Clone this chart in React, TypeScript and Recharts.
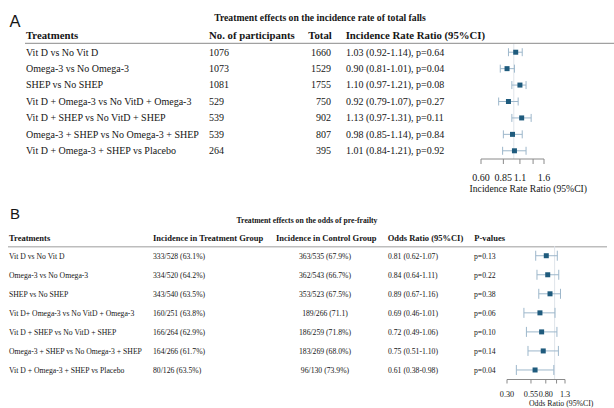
import React from 'react';
import { ScatterChart, Scatter, XAxis, YAxis, ErrorBar, ReferenceLine } from 'recharts';

const serif = '"Liberation Serif", "Times New Roman", serif';
const sans = '"Liberation Sans", Arial, sans-serif';
const markerColor = '#1f5b7d';
const barColor = '#9db7cb';
const refColor = '#dfe4ea';
const axisColor = '#8a8a8a';
const textColor = '#151515';

// panel A: incidence rate of total falls
const fallTreatments = [
  'Vit D vs No Vit D',
  'Omega-3 vs No Omega-3',
  'SHEP vs No SHEP',
  'Vit D + Omega-3 vs No VitD + Omega-3',
  'Vit D + SHEP vs No VitD + SHEP',
  'Omega-3 + SHEP vs No Omega-3 + SHEP',
  'Vit D + Omega-3 + SHEP vs Placebo',
];
const fallParticipants = [1076, 1073, 1081, 529, 539, 539, 264];
const fallTotal = [1660, 1529, 1755, 750, 902, 807, 395];
const fallIrr = [1.03, 0.9, 1.1, 0.92, 1.13, 0.98, 1.01];
const fallLow = [0.92, 0.81, 0.97, 0.79, 0.97, 0.85, 0.84];
const fallHigh = [1.14, 1.01, 1.21, 1.07, 1.31, 1.14, 1.21];
const fallP = ['0.64', '0.04', '0.08', '0.27', '0.11', '0.84', '0.92'];
const fallTicks = [0.6, 0.85, 1.1, 1.35, 1.6];
const fallTickLabels = ['0.60', '0.85', '1.1', '', '1.6'];

// panel B: odds of pre-frailty
const frailTreatments = [
  'Vit D vs No Vit D',
  'Omega-3 vs No Omega-3',
  'SHEP vs No SHEP',
  'Vit D+ Omega-3 vs No VitD + Omega-3',
  'Vit D + SHEP vs No VitD + SHEP',
  'Omega-3 + SHEP vs No Omega-3 + SHEP',
  'Vit D + Omega-3 + SHEP vs Placebo',
];
const frailTreated = ['333/528 (63.1%)', '334/520 (64.2%)', '343/540 (63.5%)', '160/251 (63.8%)', '166/264 (62.9%)', '164/266 (61.7%)', '80/126 (63.5%)'];
const frailControl = ['363/535 (67.9%)', '362/543 (66.7%)', '353/523 (67.5%)', '189/266 (71.1)', '186/259 (71.8%)', '183/269 (68.0%)', '96/130 (73.9%)'];
const frailOr = [0.81, 0.84, 0.89, 0.69, 0.72, 0.75, 0.61];
const frailLow = [0.62, 0.64, 0.67, 0.46, 0.49, 0.51, 0.38];
const frailHigh = [1.07, 1.11, 1.16, 1.01, 1.06, 1.1, 0.98];
const frailP = ['0.13', '0.22', '0.38', '0.06', '0.10', '0.14', '0.04'];
const frailTicks = [0.3, 0.55, 0.8, 1.05, 1.3];
const frailTickLabels = ['0.30', '0.55', '0.80', '', '1.3'];

const rowIndex = [0, 1, 2, 3, 4, 5, 6];

const fallData = fallIrr.map((v, i) => ({ row: i, est: v, err: [v - fallLow[i], fallHigh[i] - v] }));
const frailData = frailOr.map((v, i) => ({ row: i, est: v, err: [v - frailLow[i], frailHigh[i] - v] }));

const ci = (v: number, lo: number, hi: number) => `${v.toFixed(2)} (${lo.toFixed(2)}-${hi.toFixed(2)})`;

const square = (size: number) => (p: any) => (
  <rect x={p.cx - size / 2} y={p.cy - size / 2} width={size} height={size} fill={markerColor} />
);

const FallTick = (p: any) => {
  const i = p.payload.value;
  const t = { style: { fontFamily: serif, fontSize: 10 }, fill: textColor };
  return (
    <g>
      <text x={26} y={p.y} dy={3.4} {...t}>{fallTreatments[i]}</text>
      <text x={209} y={p.y} dy={3.4} {...t}>{fallParticipants[i]}</text>
      <text x={331} y={p.y} dy={3.4} textAnchor="end" {...t}>{fallTotal[i]}</text>
      <text x={346} y={p.y} dy={3.4} {...t}>{`${ci(fallIrr[i], fallLow[i], fallHigh[i])}, p=${fallP[i]}`}</text>
    </g>
  );
};

const FrailTick = (p: any) => {
  const i = p.payload.value;
  const t = { style: { fontFamily: serif, fontSize: 7.7 }, fill: textColor };
  return (
    <g>
      <text x={9} y={p.y} dy={3.2} {...t}>{frailTreatments[i]}</text>
      <text x={153} y={p.y} dy={3.2} {...t}>{frailTreated[i]}</text>
      <text x={325} y={p.y} dy={3.2} textAnchor="middle" {...t}>{frailControl[i]}</text>
      <text x={388} y={p.y} dy={3.2} {...t}>{ci(frailOr[i], frailLow[i], frailHigh[i])}</text>
      <text x={474} y={p.y} dy={3.2} {...t}>{`p=${frailP[i]}`}</text>
    </g>
  );
};

const Overlay = () => (
  <svg width={614} height={408} style={{ position: 'absolute', left: 0, top: 0, fontFamily: serif }}>
    <text x={9.5} y={26.7} style={{ fontFamily: sans, fontSize: 16.5 }} fill={textColor}>A</text>
    <text x={320} y={21} textAnchor="middle" fontWeight="bold" style={{ fontSize: 9.7 }} fill={textColor}>
      Treatment effects on the incidence rate of total falls
    </text>
    <g fontWeight="bold" style={{ fontSize: 10.75 }} fill={textColor}>
      <text x={26} y={39}>Treatments</text>
      <text x={209} y={39}>No. of participants</text>
      <text x={308.3} y={39}>Total</text>
      <text x={345.7} y={39}>Incidence Rate Ratio (95%CI)</text>
    </g>
    <line x1={25} x2={614} y1={43.3} y2={43.3} stroke={axisColor} strokeWidth={1} />
    <text x={528.3} y={192.3} textAnchor="middle" style={{ fontSize: 9.7 }} fill={textColor}>
      Incidence Rate Ratio (95%CI)
    </text>

    <text x={10} y={219} style={{ fontFamily: sans, fontSize: 15 }} fill={textColor}>B</text>
    <text x={307} y={223.3} textAnchor="middle" fontWeight="bold" style={{ fontSize: 7.7 }} fill={textColor}>
      Treatment effects on the odds of pre-frailty
    </text>
    <g fontWeight="bold" style={{ fontSize: 8.5 }} fill={textColor}>
      <text x={9} y={240.7}>Treatments</text>
      <text x={153} y={240.7}>Incidence in Treatment Group</text>
      <text x={276} y={240.7}>Incidence in Control Group</text>
      <text x={387.7} y={240.7}>Odds Ratio (95%CI)</text>
      <text x={474.3} y={240.7}>P-values</text>
    </g>
    <line x1={8} x2={607} y1={246.7} y2={246.7} stroke="#bdbdbd" strokeWidth={1.4} />
    <text x={561.2} y={406} textAnchor="middle" style={{ fontSize: 7.8 }} fill={textColor}>
      Odds Ratio (95%CI)
    </text>
  </svg>
);

const App: React.FC = () => (
  <div style={{ position: 'absolute', left: 0, top: 0, width: 614, height: 408, background: '#fff', fontFamily: serif }}>
    <Overlay />
    <div style={{ position: 'absolute', left: 0, top: 0 }}>
      <ScatterChart width={614} height={200} margin={{ top: 44, right: 70, bottom: 11, left: 0 }}>
        <XAxis
          type="number"
          dataKey="est"
          scale="log"
          domain={[0.6, 1.6]}
          ticks={fallTicks}
          interval={0}
          allowDataOverflow
          height={30}
          tickSize={5}
          tickMargin={10}
          stroke={axisColor}
          tickFormatter={(v: number, i: number) => fallTickLabels[i]}
          tick={{ style: { fontFamily: serif }, fontSize: 10, fill: textColor }}
        />
        <YAxis
          type="number"
          dataKey="row"
          domain={[-0.5, 6.5]}
          ticks={rowIndex}
          interval={0}
          reversed
          allowDataOverflow
          width={481}
          axisLine={false}
          tickLine={false}
          tick={<FallTick />}
        />
        <ReferenceLine x={1} stroke={refColor} strokeWidth={1} />
        <Scatter data={fallData} shape={square(5)} isAnimationActive={false}>
          <ErrorBar dataKey="err" direction="x" width={4} stroke={barColor} strokeWidth={1} />
        </Scatter>
      </ScatterChart>
    </div>
    <div style={{ position: 'absolute', left: 0, top: 200 }}>
      <ScatterChart width={614} height={208} margin={{ top: 46.2, right: 49, bottom: 8.5, left: 0 }}>
        <XAxis
          type="number"
          dataKey="est"
          scale="log"
          domain={[0.3, 1.3]}
          ticks={frailTicks}
          interval={0}
          allowDataOverflow
          height={20}
          tickSize={4}
          tickMargin={7.7}
          stroke={axisColor}
          tickFormatter={(v: number, i: number) => frailTickLabels[i]}
          tick={{ style: { fontFamily: serif }, fontSize: 8.2, fill: textColor }}
        />
        <YAxis
          type="number"
          dataKey="row"
          domain={[-0.5, 6.5]}
          ticks={rowIndex}
          interval={0}
          reversed
          allowDataOverflow
          width={507}
          axisLine={false}
          tickLine={false}
          tick={<FrailTick />}
        />
        <ReferenceLine x={1} stroke={refColor} strokeWidth={1} />
        <Scatter data={frailData} shape={square(5)} isAnimationActive={false}>
          <ErrorBar dataKey="err" direction="x" width={5} stroke={barColor} strokeWidth={1} />
        </Scatter>
      </ScatterChart>
    </div>
  </div>
);

export default App;
